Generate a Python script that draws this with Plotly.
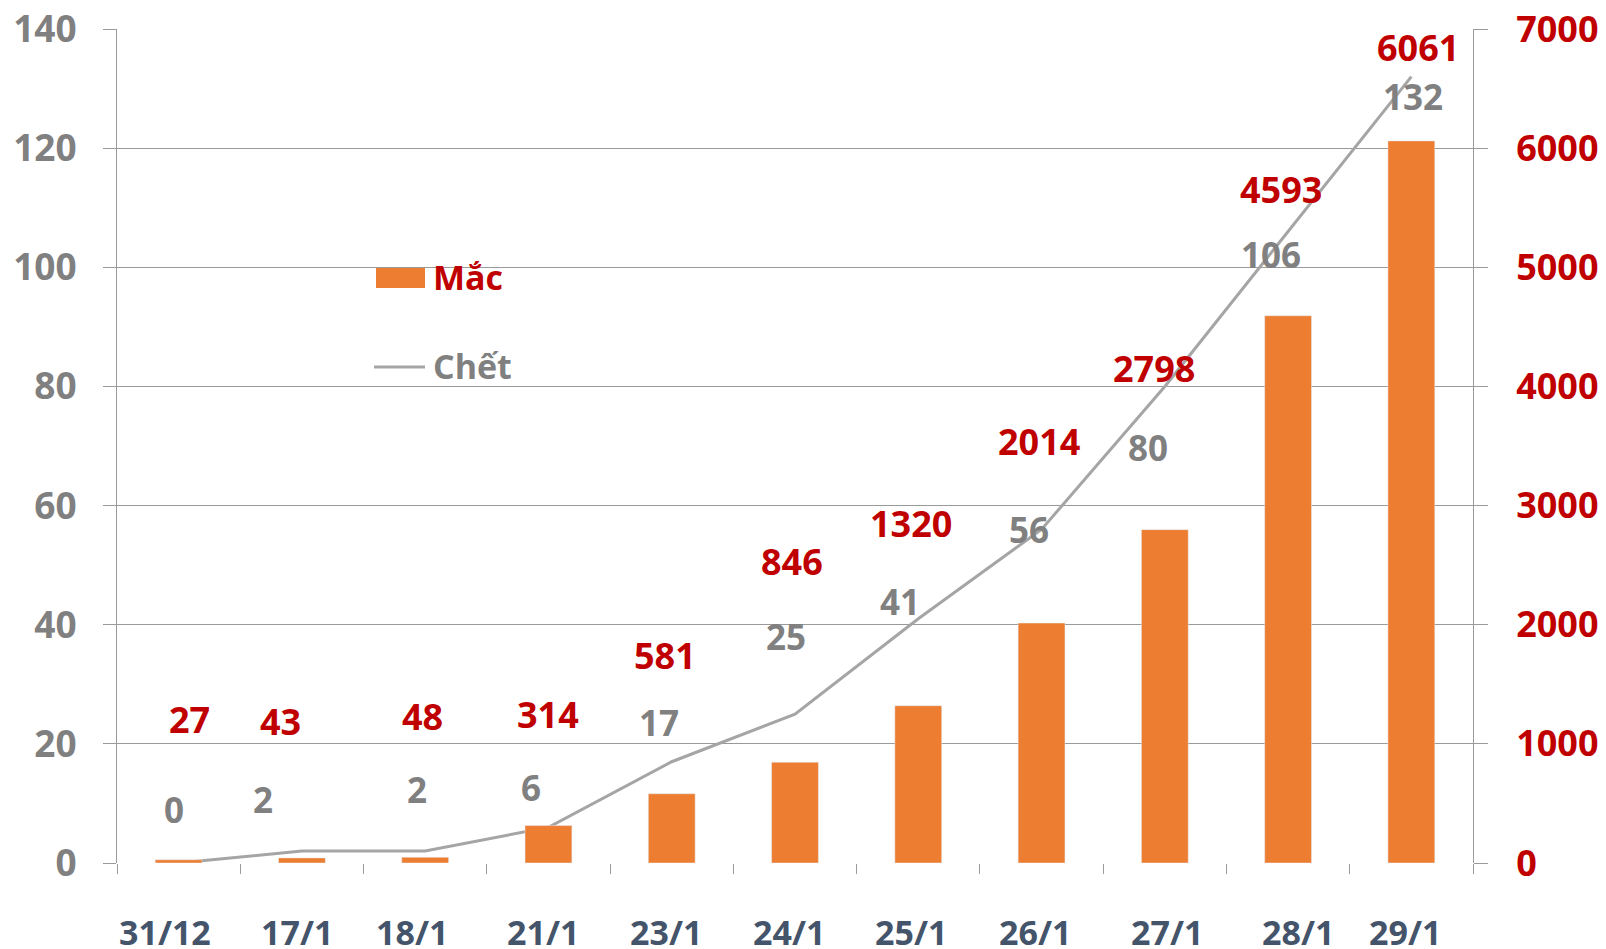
import plotly.graph_objects as go

# ---- data ----
categories = ["31/12", "17/1", "18/1", "21/1", "23/1", "24/1", "25/1", "26/1", "27/1", "28/1", "29/1"]
cases = [27, 43, 48, 314, 581, 846, 1320, 2014, 2798, 4593, 6061]
deaths = [0, 2, 2, 6, 17, 25, 41, 56, 80, 106, 132]
left_ticks = [0, 20, 40, 60, 80, 100, 120, 140]
right_ticks = [0, 1000, 2000, 3000, 4000, 5000, 6000, 7000]

# ---- label placement (pixel shifts from the data point) ----
case_dx = [11, -21, -3, 0, -7, -3, -7, -3, -11, -7, 7]
case_dy = [140, 136, 141, 111, 138, 201, 182, 182, 161, 126, 93]
death_dx = [-5, -39, -8, -17, -13, -9, -18, -13, -17, -17, 2]
death_dy = [54, 52, 62, 40, 39, 78, 17, 0, -61, -23, -20]
xlab_dx = [-14, -5, -13, -5, -6, -6, -7, -7, 2, 10, -6]

W, H = 1606, 949
L, R, T, B = 117, 133, 29, 86
px0, px1 = L, W - R
py0, py1 = T, H - B

FONT = "Open Sans"
ORANGE = "#ED7D31"
RED = "#C00000"
GREY_TXT = "#808080"
LINE_GREY = "#A5A5A5"
GRID = "#9A9A9A"
XLAB = "#44546A"


def px_to_paper_x(x):
    return (x - px0) / (px1 - px0)


def px_to_paper_y(y):
    return (py1 - y) / (py1 - py0)


fig = go.Figure()
fig.add_trace(go.Bar(x=categories, y=cases, name="Mắc", marker_color=ORANGE,
                     yaxis="y2", showlegend=False))
fig.add_trace(go.Scatter(x=categories, y=deaths, name="Chết", mode="lines",
                         line=dict(color=LINE_GREY, width=3), yaxis="y", showlegend=False))

annotations = []
for i, c in enumerate(categories):
    annotations.append(dict(x=c, y=cases[i], xref="x", yref="y2", text=str(cases[i]),
                            showarrow=False, xanchor="center", yanchor="middle",
                            xshift=case_dx[i], yshift=case_dy[i],
                            font=dict(family=FONT, size=36, color=RED, weight="bold")))
    annotations.append(dict(x=c, y=deaths[i], xref="x", yref="y", text=str(deaths[i]),
                            showarrow=False, xanchor="center", yanchor="middle",
                            xshift=death_dx[i], yshift=death_dy[i],
                            font=dict(family=FONT, size=35, color=GREY_TXT, weight="bold")))
    annotations.append(dict(x=c, y=0, xref="x", yref="paper", text=c,
                            showarrow=False, xanchor="center", yanchor="middle",
                            xshift=xlab_dx[i], yshift=-69, borderpad=0,
                            font=dict(family=FONT, size=34, color=XLAB, weight="bold")))

# legend (drawn manually to match the reference)
annotations.append(dict(x=px_to_paper_x(431), y=px_to_paper_y(277), xref="paper", yref="paper",
                        text="Mắc", showarrow=False, xanchor="left", yanchor="middle",
                        font=dict(family=FONT, size=34, color=RED, weight="bold")))
annotations.append(dict(x=px_to_paper_x(431), y=px_to_paper_y(366), xref="paper", yref="paper",
                        text="Chết", showarrow=False, xanchor="left", yanchor="middle",
                        font=dict(family=FONT, size=34, color=GREY_TXT, weight="bold")))
shapes = [
    dict(type="rect", xref="paper", yref="paper",
         x0=px_to_paper_x(376), x1=px_to_paper_x(425),
         y0=px_to_paper_y(288), y1=px_to_paper_y(268),
         fillcolor=ORANGE, line=dict(width=0)),
    dict(type="line", xref="paper", yref="paper",
         x0=px_to_paper_x(374), x1=px_to_paper_x(425),
         y0=px_to_paper_y(367), y1=px_to_paper_y(367),
         line=dict(color=LINE_GREY, width=3)),
]

fig.update_layout(
    width=W, height=H,
    margin=dict(l=L, r=R, t=T, b=B, pad=0, autoexpand=False),
    paper_bgcolor="white", plot_bgcolor="white",
    bargap=0.62,
    showlegend=False,
    annotations=annotations,
    shapes=shapes,
    xaxis=dict(type="category", showticklabels=False, tickson="boundaries",
               ticks="outside", ticklen=10, tickcolor=GRID, tickwidth=1,
               showline=False, showgrid=False, zeroline=False, automargin=False),
    yaxis=dict(range=[0, 140], tickvals=left_ticks, ticks="outside", ticklen=13,
               tickcolor=GRID, tickwidth=1, showgrid=True, gridcolor=GRID, gridwidth=1,
               showline=True, linecolor=GRID, linewidth=1, zeroline=False,
               ticklabelstandoff=19, automargin=False,
               tickfont=dict(family=FONT, size=37, color=GREY_TXT, weight="bold")),
    yaxis2=dict(range=[0, 7000], tickvals=right_ticks, overlaying="y", side="right",
                ticks="outside", ticklen=14, tickcolor=GRID, tickwidth=1,
                showgrid=False, showline=True, linecolor=GRID, linewidth=1, zeroline=False,
                ticklabelstandoff=21, automargin=False,
                tickfont=dict(family=FONT, size=36, color=RED, weight="bold")),
)

fig.write_html("out.html", config={"displayModeBar": False},
               post_script="document.body.style.margin='0';document.body.style.overflow='hidden';")
